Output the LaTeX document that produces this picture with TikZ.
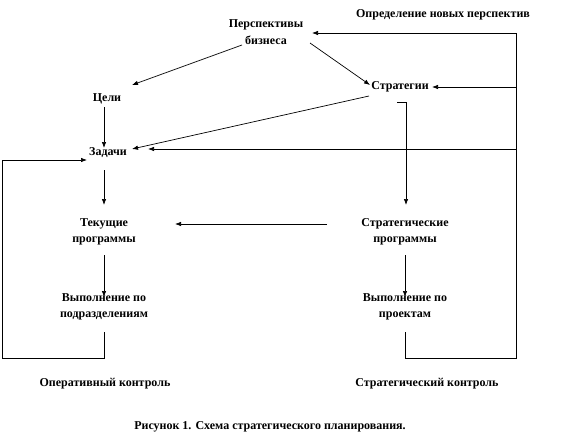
\documentclass[tikz,border=0pt]{standalone}
\usepackage{fontspec}
\setmainfont{Liberation Serif}
\usetikzlibrary{arrows.meta, calc}

\begin{document}
\begin{tikzpicture}[x=1pt, y=-1pt,
    lbl/.style={font=\fontsize{12}{16.5}\selectfont\bfseries, align=center, inner sep=0pt},
    arr/.style={-{Latex[length=6pt, width=4.5pt]}},
    every path/.style={line width=0.7pt}]
  \useasboundingbox (0,0) rectangle (562,447);
  % Blocks
  \node[lbl] (persp) at (266,32) {Перспективы\\бизнеса};
  \node[lbl] (newp) at (443,15) {Определение новых перспектив};
  \node[lbl] (strat) at (400,87) {Стратегии};
  \node[lbl] (goals) at (107,99) {Цели};
  \node[lbl] (tasks) at (108,153) {Задачи};
  \node[lbl] (curprog) at (104,232) {Текущие\\программы};
  \node[lbl] (stratprog) at (405,232) {Стратегические\\программы};
  \node[lbl] (execdiv) at (104,307) {Выполнение по\\подразделениям};
  \node[lbl] (execproj) at (405,307) {Выполнение по\\проектам};
  \node[lbl] (opctl) at (105,384) {Оперативный контроль};
  \node[lbl] (strctl) at (427,384) {Стратегический контроль};
  \node[lbl] (caption) at (270,427) {Рисунок 1. Схема стратегического планирования.};
  % Loop corners
  \coordinate (lb) at (2,358);
  \coordinate (rb) at (516,358);
  \coordinate (rt) at (516,33);
  % Top part
  \draw[arr] ($(persp)+(-24,13)$) -- ($(goals)+(25,-14)$);
  \draw[arr] ($(persp)+(44,11)$) -- ($(strat)+(-30,-2)$);
  \draw[arr] ($(strat)+(-31,9)$) -- ($(tasks)+(24,-4)$);
  \draw[arr] ($(goals)+(-3,8)$) -- ($(tasks)+(-4,-5)$);
  % Left column
  \draw[arr] ($(tasks)+(-4,17)$) -- ($(curprog)+(0,-27)$);
  \draw[arr] ($(curprog)+(0,23)$) -- ($(execdiv)+(0,-10)$);
  \draw[arr] ($(execdiv)+(0,25)$) |- (lb) |- ($(tasks)+(-21,7)$);
  % Right column
  \draw ($(strat)+(-3,15)$) -- ($(strat)+(6,15)$);
  \draw[arr] ($(strat)+(6,15)$) -- ($(stratprog)+(1,-27)$);
  \draw[arr] ($(stratprog)+(-78,-8)$) -- ($(curprog)+(71,-8)$);
  \draw[arr] ($(stratprog)+(0,23)$) -- ($(execproj)+(0,-10)$);
  % Feedback loop
  \draw[arr] ($(execproj)+(0,25)$) |- (rb) -- (rt) -- ($(persp)+(46,1)$);
  \draw[arr] (rt |- strat) -- ($(strat)+(32,0)$);
  \draw[arr] ($(rt |- tasks)+(0,-4)$) -- ($(tasks)+(40,-4)$);
\end{tikzpicture}
\end{document}
